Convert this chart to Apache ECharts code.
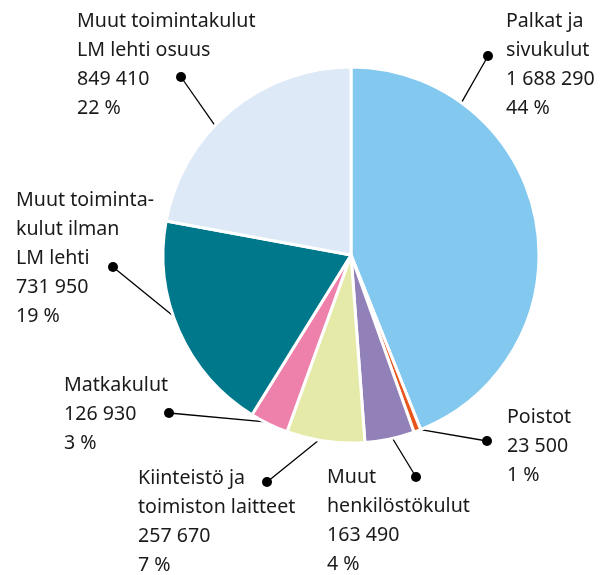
<!DOCTYPE html>
<html>
<head>
<meta charset="utf-8">
<script src="https://cdn.jsdelivr.net/npm/echarts@6/dist/echarts.min.js"></script>
<style>
  html, body { margin: 0; padding: 0; background: #fff; }
  #chart { width: 609px; height: 575px; }
</style>
</head>
<body>
<div id="chart"></div>
<script>
// data, clockwise from 12 o'clock
const names = [
  'Palkat ja\nsivukulut',
  'Poistot',
  'Muut\nhenkilöstökulut',
  'Kiinteistö ja\ntoimiston laitteet',
  'Matkakulut',
  'Muut toiminta-\nkulut ilman\nLM lehti',
  'Muut toimintakulut\nLM lehti osuus'
];
const values = [1688290, 23500, 163490, 257670, 126930, 731950, 849410];
const colors = ['#82c8ef', '#e8561c', '#9281b9', '#e6eaa9', '#ee81ab', '#00788c', '#dde9f7'];

// layout only: label block corner, dot position, angle where the leader meets the rim
const textPos = [[506, 28], [507, 424], [327, 484], [138, 485], [64, 392], [16, 207], [77, 28]];
const dotPos = [[488, 56], [487, 441], [416, 477], [267, 482], [169, 413], [113, 267], [181, 77]];
const rimAngle = [36, 159, 167.4, 189.5, 206.4, 250.3, 313.5];

const CX = 351, CY = 255, R = 188;
const FONT = '19.6px "Noto Sans", sans-serif';
const LINE_H = 29;

const total = values.reduce((a, b) => a + b, 0);
const fmt = (v) => String(v).replace(/\B(?=(\d{3})+(?!\d))/g, ' ');
const pct = (v) => Math.round((v / total) * 100) + ' %';

const chart = echarts.init(document.getElementById('chart'), null, { renderer: 'canvas' });

const labelTexts = names.map((n, i) => ({
  type: 'text',
  silent: true,
  style: {
    text: n + '\n' + fmt(values[i]) + '\n' + pct(values[i]),
    x: textPos[i][0],
    y: textPos[i][1] - 21,
    font: FONT,
    lineHeight: LINE_H,
    fill: '#1a1a1a',
    verticalAlign: 'top'
  }
}));

// leader from the rim of the pie to the dot
const rimPoint = (i) => {
  const a = rimAngle[i] * Math.PI / 180;
  const r = R - 1.5;
  return [CX + r * Math.sin(a), CY - r * Math.cos(a)];
};

chart.setOption({
  animation: false,
  backgroundColor: '#fff',
  graphic: labelTexts,
  series: [{
    type: 'pie',
    center: [CX, CY],
    radius: R,
    startAngle: 90,
    clockwise: true,
    avoidLabelOverlap: false,
    itemStyle: { borderColor: '#fff', borderWidth: 3 },
    label: {
      show: true,
      position: 'outside',
      formatter: '{d|}',
      rich: {
        d: { width: 10, height: 10, borderRadius: 5, backgroundColor: '#000' }
      }
    },
    labelLine: {
      show: true,
      length: 0,
      length2: 0,
      smooth: false,
      lineStyle: { color: '#000', width: 1.3 }
    },
    labelLayout: (p) => ({
      x: dotPos[p.dataIndex][0],
      y: dotPos[p.dataIndex][1],
      align: 'center',
      verticalAlign: 'middle',
      labelLinePoints: [rimPoint(p.dataIndex), dotPos[p.dataIndex], dotPos[p.dataIndex]]
    }),
    emphasis: { disabled: true },
    data: values.map((v, i) => ({
      name: names[i],
      value: v,
      itemStyle: { color: colors[i] }
    }))
  }]
});
</script>
</body>
</html>
